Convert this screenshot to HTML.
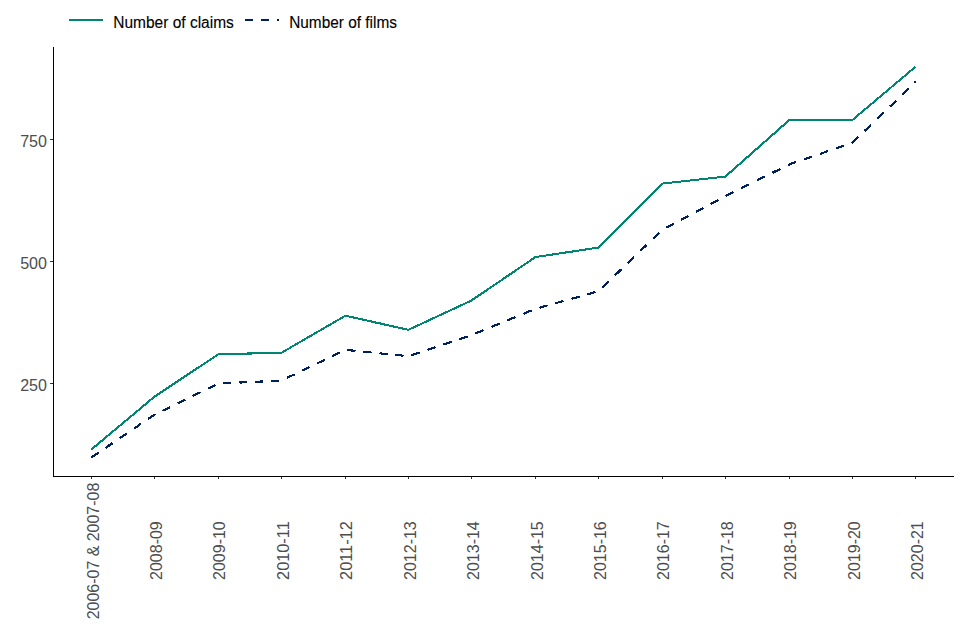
<!DOCTYPE html><html><head><meta charset="utf-8"><style>html,body{margin:0;padding:0;background:#fff;overflow:hidden}svg{display:block;position:absolute;left:0;top:0}text{font-family:"Liberation Sans",sans-serif;font-size:16px}</style></head><body>
<svg width="960" height="640" viewBox="0 0 960 640">
<rect width="960" height="640" fill="#fff"/>
<g fill="#000" shape-rendering="crispEdges">
<rect x="53" y="47" width="1" height="430"/>
<rect x="53" y="476" width="901" height="1"/>
<rect x="50" y="383" width="3" height="1" fill="#333"/>
<rect x="50" y="261" width="3" height="1" fill="#333"/>
<rect x="50" y="139" width="3" height="1" fill="#333"/>
<rect x="91" y="477" width="1" height="2" fill="#333"/>
<rect x="154" y="477" width="1" height="2" fill="#333"/>
<rect x="218" y="477" width="1" height="2" fill="#333"/>
<rect x="281" y="477" width="1" height="2" fill="#333"/>
<rect x="345" y="477" width="1" height="2" fill="#333"/>
<rect x="408" y="477" width="1" height="2" fill="#333"/>
<rect x="471" y="477" width="1" height="2" fill="#333"/>
<rect x="535" y="477" width="1" height="2" fill="#333"/>
<rect x="598" y="477" width="1" height="2" fill="#333"/>
<rect x="662" y="477" width="1" height="2" fill="#333"/>
<rect x="725" y="477" width="1" height="2" fill="#333"/>
<rect x="789" y="477" width="1" height="2" fill="#333"/>
<rect x="852" y="477" width="1" height="2" fill="#333"/>
<rect x="915" y="477" width="1" height="2" fill="#333"/>
</g>
<path shape-rendering="crispEdges" fill="#008670" d="M914 66h1v1h-1zM913 67h3v1h-3zM912 68h3v1h-3zM911 69h3v1h-3zM909 70h4v1h-4zM908 71h3v1h-3zM907 72h3v1h-3zM906 73h3v1h-3zM905 74h3v1h-3zM904 75h3v1h-3zM902 76h4v1h-4zM901 77h3v1h-3zM900 78h3v1h-3zM899 79h3v1h-3zM898 80h3v1h-3zM896 81h4v1h-4zM895 82h3v1h-3zM894 83h3v1h-3zM893 84h3v1h-3zM892 85h3v1h-3zM891 86h3v1h-3zM889 87h3v1h-3zM888 88h3v1h-3zM887 89h3v1h-3zM886 90h3v1h-3zM885 91h3v1h-3zM883 92h4v1h-4zM882 93h3v1h-3zM881 94h3v1h-3zM880 95h3v1h-3zM879 96h3v1h-3zM877 97h4v1h-4zM876 98h3v1h-3zM875 99h3v1h-3zM874 100h3v1h-3zM873 101h3v1h-3zM872 102h3v1h-3zM870 103h4v1h-4zM869 104h3v1h-3zM868 105h3v1h-3zM867 106h3v1h-3zM866 107h3v1h-3zM864 108h4v1h-4zM863 109h3v1h-3zM862 110h3v1h-3zM861 111h3v1h-3zM860 112h3v1h-3zM858 113h4v1h-4zM857 114h3v1h-3zM856 115h3v1h-3zM855 116h3v1h-3zM854 117h3v1h-3zM853 118h3v1h-3zM788 119h67v1h-67zM787 120h66v1h-66zM786 121h3v1h-3zM785 122h3v1h-3zM784 123h3v1h-3zM783 124h3v1h-3zM781 125h4v1h-4zM780 126h4v1h-4zM779 127h3v1h-3zM778 128h3v1h-3zM777 129h3v1h-3zM776 130h3v1h-3zM775 131h3v1h-3zM774 132h3v1h-3zM772 133h4v1h-4zM771 134h4v1h-4zM770 135h3v1h-3zM769 136h3v1h-3zM768 137h3v1h-3zM767 138h3v1h-3zM766 139h3v1h-3zM765 140h3v1h-3zM763 141h4v1h-4zM762 142h3v1h-3zM761 143h3v1h-3zM760 144h3v1h-3zM759 145h3v1h-3zM758 146h3v1h-3zM757 147h3v1h-3zM755 148h4v1h-4zM754 149h4v1h-4zM753 150h3v1h-3zM752 151h3v1h-3zM751 152h3v1h-3zM750 153h3v1h-3zM749 154h3v1h-3zM748 155h3v1h-3zM746 156h4v1h-4zM745 157h4v1h-4zM744 158h3v1h-3zM743 159h3v1h-3zM742 160h3v1h-3zM741 161h3v1h-3zM740 162h3v1h-3zM739 163h3v1h-3zM737 164h4v1h-4zM736 165h3v1h-3zM735 166h3v1h-3zM734 167h3v1h-3zM733 168h3v1h-3zM732 169h3v1h-3zM731 170h3v1h-3zM729 171h4v1h-4zM728 172h4v1h-4zM727 173h3v1h-3zM726 174h3v1h-3zM725 175h3v1h-3zM717 176h10v1h-10zM708 177h18v1h-18zM699 178h18v1h-18zM690 179h18v1h-18zM681 180h18v1h-18zM672 181h18v1h-18zM663 182h18v1h-18zM661 183h11v1h-11zM660 184h3v1h-3zM659 185h3v1h-3zM658 186h3v1h-3zM657 187h3v1h-3zM656 188h3v1h-3zM655 189h3v1h-3zM654 190h3v1h-3zM653 191h3v1h-3zM652 192h3v1h-3zM651 193h3v1h-3zM650 194h3v1h-3zM649 195h3v1h-3zM648 196h3v1h-3zM647 197h3v1h-3zM646 198h3v1h-3zM645 199h3v1h-3zM644 200h3v1h-3zM643 201h3v1h-3zM642 202h3v1h-3zM641 203h3v1h-3zM640 204h3v1h-3zM639 205h3v1h-3zM638 206h3v1h-3zM637 207h3v1h-3zM636 208h3v1h-3zM635 209h3v1h-3zM634 210h3v1h-3zM633 211h3v1h-3zM632 212h3v1h-3zM631 213h3v1h-3zM630 214h3v1h-3zM629 215h3v1h-3zM628 216h3v1h-3zM627 217h3v1h-3zM626 218h3v1h-3zM625 219h3v1h-3zM624 220h3v1h-3zM623 221h3v1h-3zM622 222h3v1h-3zM621 223h3v1h-3zM620 224h3v1h-3zM619 225h3v1h-3zM618 226h3v1h-3zM617 227h3v1h-3zM616 228h3v1h-3zM615 229h3v1h-3zM614 230h3v1h-3zM613 231h3v1h-3zM612 232h3v1h-3zM611 233h3v1h-3zM610 234h3v1h-3zM609 235h3v1h-3zM608 236h3v1h-3zM607 237h3v1h-3zM606 238h3v1h-3zM605 239h3v1h-3zM604 240h3v1h-3zM603 241h3v1h-3zM602 242h3v1h-3zM601 243h3v1h-3zM600 244h3v1h-3zM599 245h3v1h-3zM598 246h3v1h-3zM592 247h8v1h-8zM585 248h14v1h-14zM579 249h13v1h-13zM572 250h14v1h-14zM565 251h14v1h-14zM559 252h14v1h-14zM552 253h14v1h-14zM546 254h13v1h-13zM539 255h14v1h-14zM534 256h12v1h-12zM533 257h6v1h-6zM531 258h4v1h-4zM530 259h4v1h-4zM529 260h3v1h-3zM527 261h4v1h-4zM526 262h3v1h-3zM524 263h4v1h-4zM523 264h3v1h-3zM521 265h4v1h-4zM520 266h3v1h-3zM518 267h4v1h-4zM517 268h3v1h-3zM515 269h4v1h-4zM514 270h3v1h-3zM512 271h4v1h-4zM511 272h4v1h-4zM509 273h4v1h-4zM508 274h4v1h-4zM506 275h4v1h-4zM505 276h4v1h-4zM503 277h4v1h-4zM502 278h4v1h-4zM501 279h3v1h-3zM499 280h4v1h-4zM498 281h3v1h-3zM496 282h4v1h-4zM495 283h3v1h-3zM493 284h4v1h-4zM492 285h3v1h-3zM490 286h4v1h-4zM489 287h3v1h-3zM487 288h4v1h-4zM486 289h3v1h-3zM484 290h4v1h-4zM483 291h4v1h-4zM481 292h4v1h-4zM480 293h4v1h-4zM478 294h4v1h-4zM477 295h4v1h-4zM475 296h4v1h-4zM474 297h4v1h-4zM472 298h4v1h-4zM471 299h4v1h-4zM469 300h4v1h-4zM467 301h5v1h-5zM465 302h5v1h-5zM463 303h4v1h-4zM460 304h5v1h-5zM458 305h5v1h-5zM456 306h5v1h-5zM454 307h5v1h-5zM452 308h5v1h-5zM450 309h5v1h-5zM448 310h4v1h-4zM445 311h5v1h-5zM443 312h5v1h-5zM441 313h5v1h-5zM439 314h5v1h-5zM344 315h5v1h-5zM437 315h5v1h-5zM342 316h12v1h-12zM435 316h4v1h-4zM340 317h4v1h-4zM349 317h9v1h-9zM432 317h5v1h-5zM339 318h4v1h-4zM353 318h10v1h-10zM430 318h5v1h-5zM337 319h4v1h-4zM358 319h9v1h-9zM428 319h5v1h-5zM335 320h4v1h-4zM362 320h10v1h-10zM426 320h5v1h-5zM333 321h4v1h-4zM367 321h9v1h-9zM424 321h5v1h-5zM332 322h4v1h-4zM371 322h10v1h-10zM422 322h5v1h-5zM330 323h4v1h-4zM375 323h10v1h-10zM420 323h4v1h-4zM328 324h4v1h-4zM380 324h9v1h-9zM417 324h5v1h-5zM326 325h5v1h-5zM384 325h10v1h-10zM415 325h5v1h-5zM325 326h4v1h-4zM389 326h9v1h-9zM413 326h5v1h-5zM323 327h4v1h-4zM393 327h10v1h-10zM411 327h5v1h-5zM321 328h4v1h-4zM398 328h9v1h-9zM409 328h5v1h-5zM320 329h4v1h-4zM402 329h9v1h-9zM318 330h4v1h-4zM407 330h2v1h-2zM316 331h4v1h-4zM314 332h4v1h-4zM313 333h4v1h-4zM311 334h4v1h-4zM309 335h4v1h-4zM307 336h5v1h-5zM306 337h4v1h-4zM304 338h4v1h-4zM302 339h4v1h-4zM301 340h4v1h-4zM299 341h4v1h-4zM297 342h4v1h-4zM295 343h4v1h-4zM294 344h4v1h-4zM292 345h4v1h-4zM290 346h4v1h-4zM289 347h3v1h-3zM287 348h4v1h-4zM285 349h4v1h-4zM283 350h4v1h-4zM282 351h4v1h-4zM247 352h37v1h-37zM218 353h64v1h-64zM216 354h36v1h-36zM215 355h3v1h-3zM213 356h4v1h-4zM212 357h3v1h-3zM210 358h4v1h-4zM209 359h3v1h-3zM207 360h4v1h-4zM206 361h3v1h-3zM204 362h4v1h-4zM203 363h3v1h-3zM201 364h4v1h-4zM200 365h3v1h-3zM198 366h4v1h-4zM196 367h4v1h-4zM195 368h4v1h-4zM193 369h4v1h-4zM192 370h4v1h-4zM190 371h4v1h-4zM189 372h4v1h-4zM187 373h4v1h-4zM186 374h4v1h-4zM184 375h4v1h-4zM183 376h4v1h-4zM181 377h4v1h-4zM180 378h4v1h-4zM178 379h4v1h-4zM177 380h4v1h-4zM175 381h4v1h-4zM174 382h4v1h-4zM172 383h4v1h-4zM171 384h4v1h-4zM169 385h4v1h-4zM168 386h4v1h-4zM166 387h4v1h-4zM165 388h4v1h-4zM163 389h4v1h-4zM162 390h4v1h-4zM160 391h4v1h-4zM159 392h4v1h-4zM157 393h4v1h-4zM156 394h4v1h-4zM154 395h4v1h-4zM153 396h4v1h-4zM152 397h3v1h-3zM151 398h3v1h-3zM149 399h4v1h-4zM148 400h3v1h-3zM147 401h3v1h-3zM146 402h3v1h-3zM145 403h3v1h-3zM143 404h4v1h-4zM142 405h4v1h-4zM141 406h3v1h-3zM140 407h3v1h-3zM139 408h3v1h-3zM138 409h3v1h-3zM136 410h4v1h-4zM135 411h3v1h-3zM134 412h3v1h-3zM133 413h3v1h-3zM132 414h3v1h-3zM130 415h4v1h-4zM129 416h3v1h-3zM128 417h3v1h-3zM127 418h3v1h-3zM126 419h3v1h-3zM124 420h4v1h-4zM123 421h3v1h-3zM122 422h3v1h-3zM121 423h3v1h-3zM120 424h3v1h-3zM118 425h4v1h-4zM117 426h3v1h-3zM116 427h3v1h-3zM115 428h3v1h-3zM114 429h3v1h-3zM112 430h4v1h-4zM111 431h3v1h-3zM110 432h3v1h-3zM109 433h3v1h-3zM108 434h3v1h-3zM106 435h4v1h-4zM105 436h3v1h-3zM104 437h3v1h-3zM103 438h3v1h-3zM102 439h3v1h-3zM100 440h4v1h-4zM99 441h4v1h-4zM98 442h3v1h-3zM97 443h3v1h-3zM96 444h3v1h-3zM94 445h4v1h-4zM93 446h4v1h-4zM92 447h3v1h-3zM91 448h3v1h-3zM91 449h2v1h-2z"/>
<path shape-rendering="crispEdges" fill="#00205B" d="M914 81h2v1h-2zM914 82h2v1h-2zM907 88h2v1h-2zM906 89h3v1h-3zM905 90h3v1h-3zM904 91h3v1h-3zM903 92h3v1h-3zM902 93h3v1h-3zM902 94h2v1h-2zM895 100h1v1h-1zM894 101h3v1h-3zM893 102h3v1h-3zM892 103h3v1h-3zM891 104h3v1h-3zM889 105h4v1h-4zM890 106h2v1h-2zM882 112h2v1h-2zM881 113h3v1h-3zM880 114h3v1h-3zM879 115h3v1h-3zM878 116h3v1h-3zM877 117h3v1h-3zM877 118h2v1h-2zM870 124h1v1h-1zM869 125h2v1h-2zM868 126h3v1h-3zM867 127h3v1h-3zM866 128h3v1h-3zM864 129h4v1h-4zM864 130h3v1h-3zM865 131h1v1h-1zM857 136h1v1h-1zM856 137h3v1h-3zM855 138h3v1h-3zM854 139h3v1h-3zM853 140h3v1h-3zM852 141h3v1h-3zM851 142h3v1h-3zM852 143h1v1h-1zM841 145h3v1h-3zM838 146h6v1h-6zM836 147h6v1h-6zM836 148h3v1h-3zM826 150h2v1h-2zM824 151h4v1h-4zM821 152h6v1h-6zM820 153h4v1h-4zM820 154h2v1h-2zM809 156h3v1h-3zM806 157h6v1h-6zM804 158h6v1h-6zM804 159h3v1h-3zM794 161h2v1h-2zM791 162h5v1h-5zM789 163h6v1h-6zM788 164h4v1h-4zM788 165h2v1h-2zM779 168h1v1h-1zM777 169h4v1h-4zM774 170h6v1h-6zM772 171h6v1h-6zM772 172h4v1h-4zM773 173h1v1h-1zM762 176h3v1h-3zM760 177h5v1h-5zM758 178h5v1h-5zM757 179h4v1h-4zM757 180h2v1h-2zM746 184h3v1h-3zM744 185h5v1h-5zM742 186h5v1h-5zM741 187h4v1h-4zM741 188h2v1h-2zM732 191h1v1h-1zM730 192h4v1h-4zM728 193h5v1h-5zM726 194h5v1h-5zM725 195h4v1h-4zM726 196h1v1h-1zM717 199h1v1h-1zM715 200h4v1h-4zM713 201h5v1h-5zM711 202h5v1h-5zM710 203h4v1h-4zM711 204h1v1h-1zM702 207h1v1h-1zM700 208h4v1h-4zM698 209h5v1h-5zM696 210h5v1h-5zM696 211h3v1h-3zM696 212h1v1h-1zM687 215h1v1h-1zM685 216h4v1h-4zM683 217h5v1h-5zM681 218h5v1h-5zM681 219h3v1h-3zM681 220h1v1h-1zM672 223h2v1h-2zM670 224h4v1h-4zM668 225h5v1h-5zM666 226h5v1h-5zM666 227h3v1h-3zM658 232h1v1h-1zM657 233h3v1h-3zM656 234h3v1h-3zM655 235h3v1h-3zM654 236h3v1h-3zM653 237h3v1h-3zM653 238h2v1h-2zM645 244h1v1h-1zM644 245h3v1h-3zM643 246h4v1h-4zM642 247h4v1h-4zM641 248h3v1h-3zM640 249h3v1h-3zM640 250h2v1h-2zM633 256h1v1h-1zM632 257h2v1h-2zM631 258h3v1h-3zM630 259h3v1h-3zM629 260h3v1h-3zM628 261h3v1h-3zM627 262h3v1h-3zM628 263h1v1h-1zM619 269h3v1h-3zM618 270h4v1h-4zM617 271h4v1h-4zM616 272h4v1h-4zM615 273h4v1h-4zM614 274h3v1h-3zM615 275h1v1h-1zM607 281h2v1h-2zM606 282h3v1h-3zM605 283h3v1h-3zM604 284h3v1h-3zM603 285h3v1h-3zM602 286h3v1h-3zM602 287h2v1h-2zM593 291h2v1h-2zM590 292h6v1h-6zM587 293h7v1h-7zM587 294h4v1h-4zM576 296h4v1h-4zM572 297h8v1h-8zM571 298h6v1h-6zM572 299h1v1h-1zM561 300h2v1h-2zM558 301h6v1h-6zM555 302h7v1h-7zM555 303h3v1h-3zM543 305h5v1h-5zM540 306h7v1h-7zM539 307h5v1h-5zM540 308h1v1h-1zM528 310h4v1h-4zM526 311h6v1h-6zM524 312h5v1h-5zM523 313h4v1h-4zM524 314h1v1h-1zM514 316h1v1h-1zM511 317h5v1h-5zM509 318h6v1h-6zM507 319h5v1h-5zM507 320h3v1h-3zM497 323h3v1h-3zM494 324h6v1h-6zM492 325h6v1h-6zM491 326h4v1h-4zM492 327h1v1h-1zM482 329h1v1h-1zM480 330h4v1h-4zM477 331h6v1h-6zM475 332h6v1h-6zM475 333h3v1h-3zM464 336h4v1h-4zM461 337h7v1h-7zM459 338h6v1h-6zM459 339h3v1h-3zM449 341h3v1h-3zM446 342h6v1h-6zM443 343h7v1h-7zM443 344h4v1h-4zM434 346h1v1h-1zM431 347h5v1h-5zM428 348h7v1h-7zM347 349h6v1h-6zM427 349h5v1h-5zM347 350h9v1h-9zM428 350h1v1h-1zM351 351h4v1h-4zM363 351h8v1h-8zM337 352h3v1h-3zM363 352h9v1h-9zM380 352h2v1h-2zM416 352h4v1h-4zM335 353h5v1h-5zM379 353h9v1h-9zM413 353h7v1h-7zM333 354h5v1h-5zM381 354h7v1h-7zM395 354h7v1h-7zM411 354h6v1h-6zM332 355h4v1h-4zM395 355h9v1h-9zM411 355h3v1h-3zM332 356h2v1h-2zM401 356h2v1h-2zM323 359h2v1h-2zM321 360h4v1h-4zM319 361h5v1h-5zM317 362h5v1h-5zM317 363h2v1h-2zM308 366h1v1h-1zM306 367h4v1h-4zM304 368h5v1h-5zM302 369h5v1h-5zM302 370h3v1h-3zM292 374h3v1h-3zM289 375h6v1h-6zM287 376h5v1h-5zM287 377h3v1h-3zM287 378h1v1h-1zM260 380h3v1h-3zM271 380h8v1h-8zM239 381h8v1h-8zM255 381h8v1h-8zM271 381h8v1h-8zM223 382h8v1h-8zM239 382h8v1h-8zM255 382h8v1h-8zM223 383h8v1h-8zM240 383h2v1h-2zM214 384h1v1h-1zM212 385h4v1h-4zM210 386h5v1h-5zM208 387h5v1h-5zM208 388h3v1h-3zM197 392h4v1h-4zM195 393h5v1h-5zM193 394h5v1h-5zM192 395h4v1h-4zM193 396h1v1h-1zM183 399h2v1h-2zM181 400h5v1h-5zM179 401h5v1h-5zM177 402h5v1h-5zM178 403h2v1h-2zM169 406h1v1h-1zM167 407h3v1h-3zM165 408h5v1h-5zM163 409h5v1h-5zM162 410h4v1h-4zM153 414h3v1h-3zM151 415h4v1h-4zM150 416h4v1h-4zM148 417h4v1h-4zM148 418h3v1h-3zM148 419h1v1h-1zM139 423h2v1h-2zM138 424h3v1h-3zM137 425h3v1h-3zM135 426h4v1h-4zM134 427h4v1h-4zM134 428h2v1h-2zM125 433h2v1h-2zM123 434h4v1h-4zM122 435h4v1h-4zM120 436h4v1h-4zM119 437h4v1h-4zM120 438h1v1h-1zM111 442h1v1h-1zM110 443h3v1h-3zM108 444h5v1h-5zM107 445h4v1h-4zM106 446h4v1h-4zM105 447h3v1h-3zM106 448h1v1h-1zM97 452h2v1h-2zM95 453h4v1h-4zM94 454h4v1h-4zM92 455h4v1h-4zM91 456h4v1h-4zM91 457h2v1h-2z"/>
<rect x="69" y="19" width="34" height="2" fill="#008670" shape-rendering="crispEdges"/>
<g fill="#00205B" shape-rendering="crispEdges"><rect x="245" y="19" width="8" height="2"/><rect x="261" y="19" width="8" height="2"/><rect x="277" y="19" width="2" height="2"/></g>
<text x="113.3" y="28.0" fill="#000" stroke="#000" stroke-width="0.12" textLength="120.5" lengthAdjust="spacingAndGlyphs">Number of claims</text>
<text x="289.2" y="28.0" fill="#000" stroke="#000" stroke-width="0.12" textLength="107.7" lengthAdjust="spacingAndGlyphs">Number of films</text>
<text x="47" y="391.35" fill="#4D4D4D" text-anchor="end" textLength="26.8" lengthAdjust="spacingAndGlyphs">250</text>
<text x="47" y="269.35" fill="#4D4D4D" text-anchor="end" textLength="26.8" lengthAdjust="spacingAndGlyphs">500</text>
<text x="47" y="147.35" fill="#4D4D4D" text-anchor="end" textLength="26.8" lengthAdjust="spacingAndGlyphs">750</text>
<text transform="translate(98.63,551) rotate(-90)" fill="#4D4D4D" text-anchor="middle" textLength="136.5" lengthAdjust="spacingAndGlyphs">2006-07 &amp; 2007-08</text>
<text transform="translate(162.05,550.6) rotate(-90)" fill="#4D4D4D" text-anchor="middle" textLength="58.7" lengthAdjust="spacingAndGlyphs">2008-09</text>
<text transform="translate(225.47,550.6) rotate(-90)" fill="#4D4D4D" text-anchor="middle" textLength="58.7" lengthAdjust="spacingAndGlyphs">2009-10</text>
<text transform="translate(288.89,550.6) rotate(-90)" fill="#4D4D4D" text-anchor="middle" textLength="58.7" lengthAdjust="spacingAndGlyphs">2010-11</text>
<text transform="translate(352.31,550.6) rotate(-90)" fill="#4D4D4D" text-anchor="middle" textLength="58.7" lengthAdjust="spacingAndGlyphs">2011-12</text>
<text transform="translate(415.73,550.6) rotate(-90)" fill="#4D4D4D" text-anchor="middle" textLength="58.7" lengthAdjust="spacingAndGlyphs">2012-13</text>
<text transform="translate(479.15,550.6) rotate(-90)" fill="#4D4D4D" text-anchor="middle" textLength="58.7" lengthAdjust="spacingAndGlyphs">2013-14</text>
<text transform="translate(542.57,550.6) rotate(-90)" fill="#4D4D4D" text-anchor="middle" textLength="58.7" lengthAdjust="spacingAndGlyphs">2014-15</text>
<text transform="translate(605.99,550.6) rotate(-90)" fill="#4D4D4D" text-anchor="middle" textLength="58.7" lengthAdjust="spacingAndGlyphs">2015-16</text>
<text transform="translate(669.41,550.6) rotate(-90)" fill="#4D4D4D" text-anchor="middle" textLength="58.7" lengthAdjust="spacingAndGlyphs">2016-17</text>
<text transform="translate(732.83,550.6) rotate(-90)" fill="#4D4D4D" text-anchor="middle" textLength="58.7" lengthAdjust="spacingAndGlyphs">2017-18</text>
<text transform="translate(796.25,550.6) rotate(-90)" fill="#4D4D4D" text-anchor="middle" textLength="58.7" lengthAdjust="spacingAndGlyphs">2018-19</text>
<text transform="translate(859.67,550.6) rotate(-90)" fill="#4D4D4D" text-anchor="middle" textLength="58.7" lengthAdjust="spacingAndGlyphs">2019-20</text>
<text transform="translate(923.09,550.6) rotate(-90)" fill="#4D4D4D" text-anchor="middle" textLength="58.7" lengthAdjust="spacingAndGlyphs">2020-21</text>
</svg></body></html>
